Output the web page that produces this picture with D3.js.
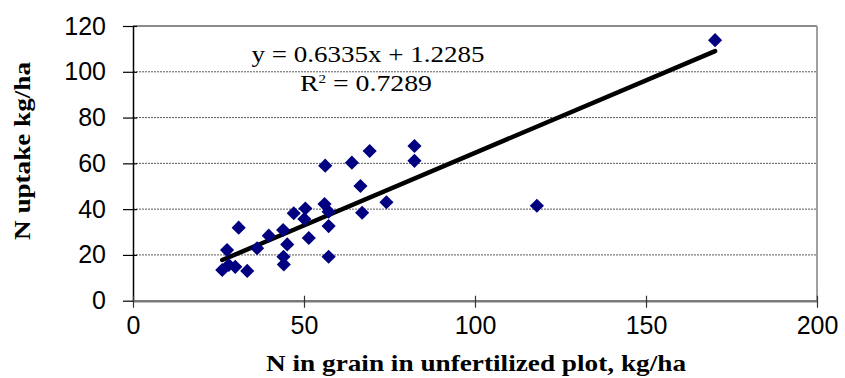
<!DOCTYPE html>
<html>
<head>
<meta charset="utf-8">
<script src="https://cdn.jsdelivr.net/npm/d3@7"></script>
<style>
  html, body { margin: 0; padding: 0; background: #fff; }
  svg { display: block; }
</style>
</head>
<body>
<svg id="chart" width="845" height="378"></svg>
<script>
// ---- data ----
const xValues = [26.1, 27.5, 29.9, 33.4, 30.9, 36.3, 39.7, 43.9, 45.1, 44.0, 44.1, 47.0, 50.4, 50.1, 51.4,
                 56.0, 57.2, 57.2, 57.2, 56.2, 64.0, 69.2, 66.5, 67.0, 74.1, 82.3, 82.3, 118.1, 170.2, 28.0];
const yValues = [13.4, 22.1, 14.8, 13.0, 31.9, 22.9, 28.4, 30.9, 24.6, 19.2, 15.8, 38.2, 40.3, 35.7, 27.4,
                 42.2, 38.9, 32.6, 19.2, 59.0, 60.3, 65.4, 50.1, 38.4, 43.0, 67.6, 61.1, 41.5, 113.8, 15.6];
const xTicks = [0, 50, 100, 150, 200];
const yTicks = [0, 20, 40, 60, 80, 100, 120];
const trendSlope = [0.6335];
const trendIntercept = [1.2285];
const equationLabel = "y = 0.6335x + 1.2285";
const r2Label = ["R", "2", " = 0.7289"];
const xTitle = "N in grain in unfertilized plot, kg/ha";
const yTitle = "N uptake kg/ha";

// ---- layout ----
const mLeft = 133, mRight = 817, mTop = 26, mBottom = 300.7;
const svg = d3.select("#chart");
const x = d3.scaleLinear().domain([0, 200]).range([mLeft, mRight]);
const y = d3.scaleLinear().domain([0, 120]).range([mBottom, mTop]);

// gridlines
svg.append("g").selectAll("line")
  .data(yTicks.filter(d => d > 0 && d < 120))
  .join("line")
  .attr("x1", mLeft).attr("x2", mRight)
  .attr("y1", d => y(d)).attr("y2", d => y(d))
  .attr("stroke", "#5a5a5a").attr("stroke-width", 1)
  .attr("stroke-dasharray", "2,1");

// top & right border
svg.append("line").attr("x1", mLeft).attr("x2", mRight).attr("y1", y(120)).attr("y2", y(120))
  .attr("stroke", "#8c8c8c").attr("stroke-width", 2);
svg.append("line").attr("x1", mRight).attr("x2", mRight).attr("y1", mTop).attr("y2", mBottom)
  .attr("stroke", "#a0a0a0").attr("stroke-width", 2);

// y axis
const yAxis = d3.axisLeft(y).tickValues(yTicks).tickSize(0).tickPadding(10).tickFormat(d3.format("d"));
const gy = svg.append("g").attr("transform", `translate(${mLeft},0)`).call(yAxis);
gy.select(".domain").attr("stroke", "#000").attr("stroke-width", 1.5);
gy.selectAll(".tick line").remove();
gy.selectAll(".tick").append("line").attr("x1", -10).attr("x2", 4).attr("stroke", "#000").attr("stroke-width", 1.2);
gy.selectAll(".tick text").attr("x", -27)
  .style("font-family", "'Liberation Sans', Arial, sans-serif").style("font-size", "25px").attr("fill", "#000");

// x axis
const xAxis = d3.axisBottom(x).tickValues(xTicks).tickSize(0).tickPadding(14);
const gx = svg.append("g").attr("transform", `translate(0,${mBottom})`).call(xAxis);
gx.select(".domain").attr("stroke", "#7a7a7a").attr("stroke-width", 2.5);
gx.selectAll(".tick line").remove();
gx.selectAll(".tick").append("line").attr("y1", -5).attr("y2", 7).attr("stroke", "#333").attr("stroke-width", 1.2);
gx.selectAll(".tick text").attr("y", 16)
  .style("font-family", "'Liberation Sans', Arial, sans-serif").style("font-size", "25px").attr("fill", "#000");

// trend line
const xMin = d3.min(xValues), xMax = d3.max(xValues);
svg.append("line")
  .attr("x1", x(xMin)).attr("y1", y(trendSlope[0] * xMin + trendIntercept[0]))
  .attr("x2", x(xMax)).attr("y2", y(trendSlope[0] * xMax + trendIntercept[0]))
  .attr("stroke", "#000").attr("stroke-width", 4.5).attr("stroke-linecap", "round");

// points
const pts = xValues.map((v, i) => ({x: v, y: yValues[i]}));
svg.append("g").selectAll("path")
  .data(pts)
  .join("path")
  .attr("d", d3.symbol().type(d3.symbolSquare).size(100))
  .attr("transform", d => `translate(${x(d.x)},${y(d.y)}) rotate(45)`)
  .attr("fill", "#000080");

// equation
svg.append("text").attr("x", 368).attr("y", 62).attr("text-anchor", "middle")
  .style("font-family", "'Liberation Serif', 'Times New Roman', serif").style("font-size", "24px")
  .attr("textLength", 233).attr("lengthAdjust", "spacingAndGlyphs")
  .text(equationLabel);
const r2 = svg.append("text").attr("x", 300).attr("y", 91)
  .style("font-family", "'Liberation Serif', 'Times New Roman', serif").style("font-size", "24px")
  .attr("textLength", 132).attr("lengthAdjust", "spacingAndGlyphs");
r2.append("tspan").text(r2Label[0]);
r2.append("tspan").attr("dy", -8).style("font-size", "13px").text(r2Label[1]);
r2.append("tspan").attr("dy", 8).text(r2Label[2]);

// titles
svg.append("text").attr("x", 476).attr("y", 371).attr("text-anchor", "middle")
  .style("font-family", "'Liberation Serif', 'Times New Roman', serif").style("font-size", "24px")
  .style("font-weight", "bold")
  .attr("textLength", 420).attr("lengthAdjust", "spacingAndGlyphs")
  .text(xTitle);
svg.append("text").attr("transform", "translate(30,151) rotate(-90)").attr("text-anchor", "middle")
  .style("font-family", "'Liberation Serif', 'Times New Roman', serif").style("font-size", "23px")
  .style("font-weight", "bold")
  .attr("textLength", 178).attr("lengthAdjust", "spacingAndGlyphs")
  .text(yTitle);
</script>
</body>
</html>
